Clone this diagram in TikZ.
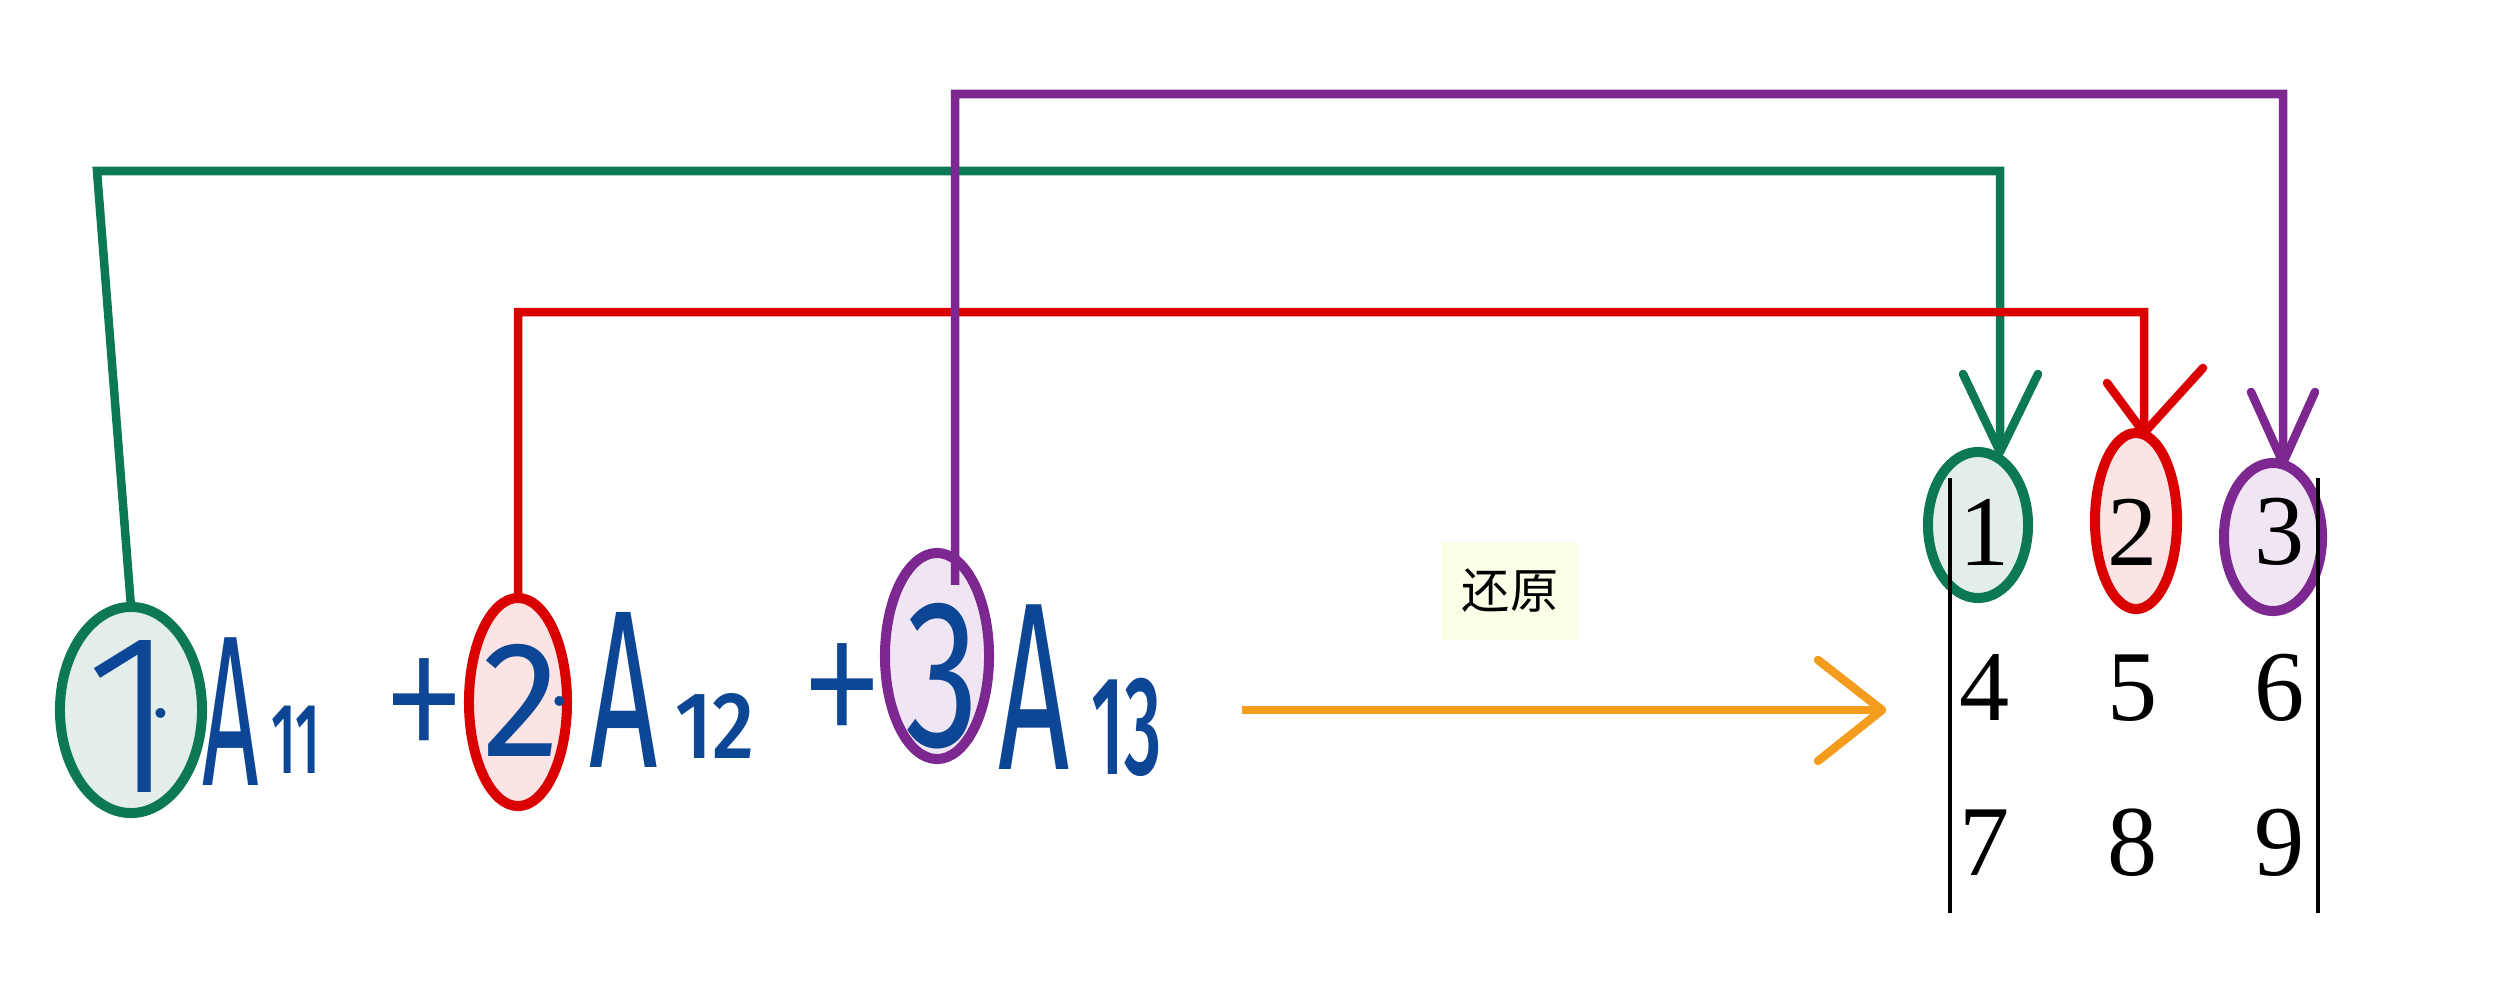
\documentclass[tikz,border=0pt]{standalone}
\usepackage{fontspec}
\setmainfont{Liberation Serif}
\newfontfamily\hand{Fira Sans Light}
\newfontfamily\handR{Fira Sans}
\newfontfamily\handM{Fira Sans Medium}
\newfontfamily\cjk{Noto Sans CJK SC}
\usetikzlibrary{shapes.geometric}
\definecolor{gcol}{RGB}{12,120,85}
\definecolor{gfill}{RGB}{227,238,234}
\definecolor{rcol}{RGB}{218,0,0}
\definecolor{rfill}{RGB}{252,228,228}
\definecolor{pcol}{RGB}{125,40,145}
\definecolor{pfill}{RGB}{240,230,243}
\definecolor{hblue}{RGB}{14,70,150}
\definecolor{ocol}{RGB}{243,156,30}
\definecolor{lblbg}{RGB}{253,254,232}
\newcommand\hwtext[3]{\scalebox{#2}[1]{\fontsize{#1}{#1}\selectfont\hand #3}}
\newcommand\hwtextR[3]{\scalebox{#2}[1]{\fontsize{#1}{#1}\selectfont\handR #3}}
\newcommand\hwtextM[3]{\scalebox{#2}[1]{\fontsize{#1}{#1}\selectfont\handM #3}}
\begin{document}
\begin{tikzpicture}[x=0.01cm,y=-0.01cm,
  ell/.style={ellipse, inner sep=0pt, outer sep=0pt, line width=0.1cm},
  hwt/.style={inner sep=0pt, text=hblue},
  digit/.style={inner sep=0pt, font=\fontsize{28.5}{30}\selectfont},
  conn/.style={line width=0.085cm},
  barb/.style={line width=0.085cm, line cap=round},
  bar/.style={line width=0.04cm, black},
  lblbox/.style={fill=lblbg, inner sep=0pt, minimum width=1.36cm, minimum height=0.97cm, font=\fontsize{13.7}{14}\selectfont\cjk}
]
\useasboundingbox (0,0) rectangle (2512,1000);
\fill[white] (0,0) rectangle (2512,1000);

% ellipses
\node[ell, fill=gfill, draw=gcol, minimum width=1.42cm, minimum height=2.06cm] (g1) at (131,710) {};
\node[ell, fill=rfill, draw=rcol, minimum width=0.98cm, minimum height=2.08cm] (r1) at (518,702) {};
\node[ell, fill=pfill, draw=pcol, minimum width=1.04cm, minimum height=2.06cm] (p1) at (937,656) {};
\node[ell, fill=gfill, draw=gcol, minimum width=1.00cm, minimum height=1.46cm] (g2) at (1978,525) {};
\node[ell, fill=rfill, draw=rcol, minimum width=0.82cm, minimum height=1.76cm] (r2) at (2136,521) {};
\node[ell, fill=pfill, draw=pcol, minimum width=0.98cm, minimum height=1.48cm] (p2) at (2273,537) {};

% determinant bars
\coordinate (lbt) at (1950,478);
\coordinate (lbb) at (1950,913);
\coordinate (rbt) at (2318,478);
\coordinate (rbb) at (2318,913);
\draw[bar] (lbt) -- (lbb);
\draw[bar] (rbt) -- (rbb);

% determinant entries
\node[digit] (m11) at (1985,532) {1};
\node[digit] (m12) at (2133,532) {2};
\node[digit] (m13) at (2280,532) {3};
\node[digit] (m21) at (1985,688) {4};
\node[digit] (m22) at (2133,688) {5};
\node[digit] (m23) at (2280,688) {6};
\node[digit] (m31) at (1985,843) {7};
\node[digit] (m32) at (2133,843) {8};
\node[digit] (m33) at (2280,843) {9};

% handwriting
\node[hwt] (n1) at (132,716) {\hwtext{65}{1}{1}};
\node[hwt] (d1) at (161,713) {\hwtextR{20}{1}{.}};
\node[hwt] (a1) at (231,712) {\hwtextR{61}{0.46}{A}};
\node[hwt] (s1) at (296,740) {\hwtextM{28.5}{0.55}{11}};
\node[hwt] (pl1) at (424,718) {\hwtext{66}{0.75}{+}};
\node[hwt] (n2) at (521,700) {\hwtextR{47}{0.95}{2}};
\node[hwt] (d2) at (560,701) {\hwtextR{20}{1}{.}};
\node[hwt] (a2) at (624,690) {\hwtextR{64}{0.53}{A}};
\node[hwt] (s2) at (715,726) {\hwtextM{27}{0.87}{12}};
\node[hwt] (pl2) at (842,703) {\hwtext{66}{0.75}{+}};
\node[hwt] (n3) at (942,676) {\hwtextR{60}{0.7}{3}};
\node[hwt] (a3) at (1034,687) {\hwtextR{68}{0.52}{A}};
\node[hwt] (s3) at (1127,727) {\hwtextM{40}{0.52}{13}};

% label
\node[lblbox] (lbl) at (1510,591) {还原};

% connectors
\coordinate (gtip) at ([xshift=0.22cm]g2.north);
\coordinate (rtip) at ([xshift=0.08cm]r2.north);
\coordinate (ptip) at ([xshift=0.10cm]p2.north);
\coordinate (pstart) at ([xshift=0.18cm,yshift=0.71cm]p1.center);

\draw[conn, gcol] (g1.north) -- (97,171) -| (gtip);
\draw[barb, gcol] (gtip) -- ++(-37,-78) (gtip) -- ++(38,-78);

\draw[conn, rcol] (r1.north) |- (2144,312) -- (rtip);
\draw[barb, rcol] (rtip) -- ++(-37,-50) (rtip) -- ++(59,-65);

\draw[conn, pcol] (pstart) |- (2283,94) -- (ptip);
\draw[barb, pcol] (ptip) -- ++(-32,-71) (ptip) -- ++(32,-71);

% orange arrow
\coordinate (ostart) at (1242,710);
\coordinate (otip) at (1882,710);
\draw[conn, ocol] (ostart) -- (otip);
\draw[barb, ocol] (otip) -- ++(-64,-50) (otip) -- ++(-64,51);
\end{tikzpicture}
\end{document}
